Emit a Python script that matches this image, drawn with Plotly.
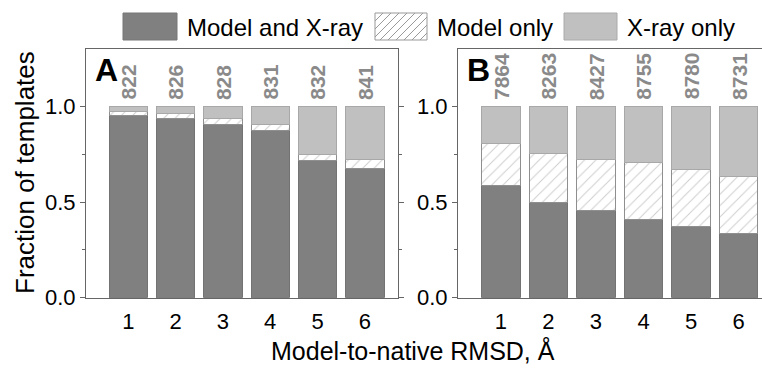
import plotly.graph_objects as go

# ---------------- data ----------------
rmsd = [1, 2, 3, 4, 5, 6]
tick_labels = ["1", "2", "3", "4", "5", "6"]

a_both = [0.953, 0.939, 0.906, 0.874, 0.717, 0.675]
a_model_only = [0.023, 0.026, 0.031, 0.034, 0.034, 0.046]
a_xray_only = [0.024, 0.035, 0.063, 0.092, 0.249, 0.279]
a_counts = ["822", "826", "828", "831", "832", "841"]

b_both = [0.585, 0.500, 0.454, 0.410, 0.372, 0.337]
b_model_only = [0.220, 0.256, 0.271, 0.300, 0.300, 0.297]
b_xray_only = [0.195, 0.244, 0.275, 0.290, 0.328, 0.366]
b_counts = ["7864", "8263", "8427", "8755", "8780", "8731"]

series_names = ["Model and X-ray", "Model only", "X-ray only"]
panel_letters = ["A", "B"]

# ---------------- style ----------------
W, H = 762, 368
DARK = "#808080"
LIGHT = "#c0c0c0"
EDGE = "#8f8f8f"
AXIS = "#666666"
FONT = "Liberation Sans, Arial, sans-serif"
BAR_W = 0.81


def px(x):
    return x / W


def py(y):
    return 1 - y / H


fig = go.Figure()

panels = [
    (a_both, a_model_only, a_xray_only, a_counts, "x", "y"),
    (b_both, b_model_only, b_xray_only, b_counts, "x2", "y2"),
]

for both, monly, xonly, counts, xa, ya in panels:
    fig.add_trace(go.Bar(x=rmsd, y=both, name=series_names[0], xaxis=xa, yaxis=ya,
                         width=BAR_W, marker=dict(color=DARK, line=dict(color="#737373", width=1)),
                         showlegend=False))
    fig.add_trace(go.Bar(x=rmsd, y=monly, name=series_names[1], xaxis=xa, yaxis=ya,
                         width=BAR_W,
                         marker=dict(color="white", line=dict(color=EDGE, width=1),
                                     pattern=dict(shape="/", fgcolor="#9a9a9a", bgcolor="white",
                                                  size=8, solidity=0.12)),
                         showlegend=False))
    fig.add_trace(go.Bar(x=rmsd, y=xonly, name=series_names[2], xaxis=xa, yaxis=ya,
                         width=BAR_W, marker=dict(color=LIGHT, line=dict(color="#a8a8a8", width=1)),
                         showlegend=False))
    tops = [b + m + x for b, m, x in zip(both, monly, xonly)]
    for xv, top, c in zip(rmsd, tops, counts):
        fig.add_annotation(x=xv, y=top, xref=xa, yref=ya, text="<b>%s</b>" % c,
                           textangle=-90, showarrow=False, yanchor="bottom", xanchor="center",
                           yshift=5, font=dict(family=FONT, size=21, color="#8a8a8a"))

axis_common = dict(showgrid=False, zeroline=False, showline=True, linecolor=AXIS, linewidth=1,
                   automargin=False)

# panel domains in pixels
A_left, A_right = 86, 398
B_left = 458
Y_bot, Y_top = 297.7, 49

fig.update_layout(
    width=W, height=H,
    margin=dict(l=0, r=0, t=0, b=0),
    paper_bgcolor="white", plot_bgcolor="white",
    barmode="stack", bargap=0.19,
    font=dict(family=FONT, color="black"),
    xaxis=dict(domain=[px(A_left), px(A_right)], range=[0.107, 6.70], tickvals=rmsd,
               ticktext=tick_labels, ticks="", mirror=True, anchor="y",
               ticklabelstandoff=4, tickfont=dict(size=22), **axis_common),
    yaxis=dict(domain=[py(Y_bot), py(Y_top)], range=[0, 1.302], tickvals=[0, 0.5, 1.0],
               ticktext=["0.0", "0.5", "1.0"], ticks="outside", ticklen=5, tickcolor=AXIS,
               mirror="ticks", anchor="x",
               minor=dict(tickvals=[0.25, 0.75], ticks="outside", ticklen=3, tickcolor=AXIS),
               tickfont=dict(size=22), **axis_common),
    xaxis2=dict(domain=[px(B_left), 1.0], range=[0.1, 6.49], tickvals=rmsd,
                ticktext=tick_labels, ticks="", mirror=True, anchor="y2",
                ticklabelstandoff=4, tickfont=dict(size=22), **axis_common),
    yaxis2=dict(domain=[py(Y_bot), py(Y_top)], range=[0, 1.302], tickvals=[0, 0.5, 1.0],
                ticktext=["0.0", "0.5", "1.0"], ticks="outside", ticklen=5, tickcolor=AXIS,
                mirror=False, anchor="x2",
                minor=dict(tickvals=[0.25, 0.75], ticks="outside", ticklen=3, tickcolor=AXIS),
                tickfont=dict(size=22), **axis_common),
)

# panel letters
for letter, xl in zip(panel_letters, [93, 465]):
    fig.add_annotation(x=px(xl), y=py(70), xref="paper", yref="paper", text="<b>%s</b>" % letter,
                       showarrow=False, xanchor="left", yanchor="middle",
                       font=dict(family=FONT, size=32, color="black"))

# axis titles
fig.add_annotation(x=px(413), y=py(350), xref="paper", yref="paper",
                   text="Model-to-native RMSD, Å", showarrow=False,
                   xanchor="center", yanchor="middle",
                   font=dict(family=FONT, size=25, color="black"))
fig.add_annotation(x=px(25), y=py(173), xref="paper", yref="paper",
                   text="Fraction of templates", textangle=-90, showarrow=False,
                   xanchor="center", yanchor="middle",
                   font=dict(family=FONT, size=26, color="black"))

# ---------------- custom legend ----------------
LY0, LY1 = 13, 40
boxes = [(123, 177, DARK, "#777777"), (375, 427, "white", "#999999"), (564, 617, LIGHT, "#aaaaaa")]
text_x = [185, 435, 625]
for (x0, x1, fc, lc), tx, name in zip(boxes, text_x, series_names):
    fig.add_shape(type="rect", xref="paper", yref="paper", x0=px(x0), x1=px(x1),
                  y0=py(LY1), y1=py(LY0), fillcolor=fc, line=dict(color=lc, width=1))
    fig.add_annotation(x=px(tx), y=py(27), xref="paper", yref="paper", text=name,
                       showarrow=False, xanchor="left", yanchor="middle",
                       font=dict(family=FONT, size=24, color="black"))

# hatch lines in legend box 2
hx0, hx1 = 375, 427
step = 8
segs = []
c = hx0 + LY0 + step
while c < hx1 + LY1:
    xa_ = max(hx0, c - LY1)
    xb_ = min(hx1, c - LY0)
    if xb_ > xa_:
        segs.append("M %.5f %.5f L %.5f %.5f" % (px(xa_), py(c - xa_), px(xb_), py(c - xb_)))
    c += step
fig.add_shape(type="path", xref="paper", yref="paper", path=" ".join(segs),
              line=dict(color="#999999", width=1))

fig.write_html("out.html")
